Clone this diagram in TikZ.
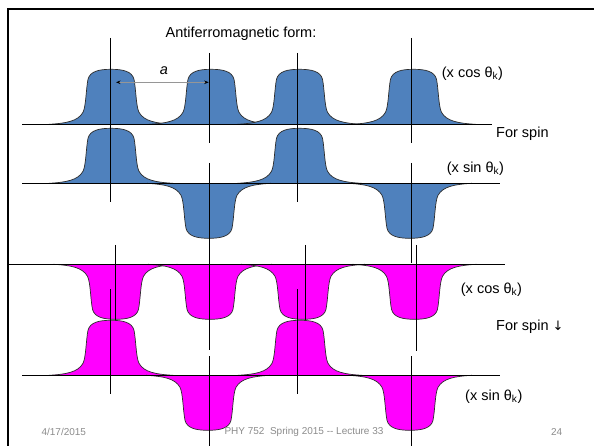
\documentclass[tikz,border=0pt]{standalone}
\usepackage{fontspec}
\setmainfont{Liberation Sans}
\newfontfamily\arrowfont{DejaVu Sans}
\usetikzlibrary{arrows.meta}
\definecolor{bblue}{RGB}{79,129,189}
\definecolor{pmag}{RGB}{255,0,255}
\definecolor{outl}{RGB}{45,45,45}
\definecolor{foot}{RGB}{140,140,140}
\definecolor{arrgray}{RGB}{150,150,150}
\tikzset{
  bump/.pic={
    \path[pic actions] (-62,0) .. controls (-45,-1) and (-33,-3) .. (-28,-12)
      .. controls (-25,-18) and (-25,-35) .. (-23,-45)
      .. controls (-21,-53) and (-12,-55) .. (0,-55)
      .. controls (12,-55) and (21,-53) .. (23,-45)
      .. controls (25,-35) and (25,-18) .. (28,-12)
      .. controls (33,-3) and (45,-1) .. (62,0);
  },
  bluebump/.style={fill=bblue, draw=outl, line width=0.7pt},
  pinkbump/.style={fill=pmag, draw=outl, line width=0.7pt},
  axisline/.style={line width=1.1pt},
  vline/.style={line width=0.9pt},
  lbl/.style={font=\fontsize{14.5}{17}\selectfont, inner sep=0pt, anchor=west},
  footer/.style={font=\fontsize{10}{12}\selectfont, text=foot, inner sep=0pt},
  frameline/.style={line width=2.2pt},
}
\begin{document}
\begin{tikzpicture}[x=1pt, y=-1pt]
\useasboundingbox (0,0) rectangle (594,446);
\fill[white] (0,0) rectangle (594,446);

% frame
\draw[frameline] (8.3,446) -- (8.3,9) -- (594,9);

% ---------- blue row 1 (cos) ----------
\foreach \c in {111,211,299.5,413.5}
  \pic[bluebump] at (\c,124.3) {bump};
\draw[axisline] (22,124.3) -- (492,124.3);
\draw[vline] (110.7,38) -- (110.7,143.5);
\draw[vline] (209.3,53) -- (209.3,143.5);
\draw[vline] (297.3,53) -- (297.3,143.5);
\draw[vline] (411.7,38) -- (411.7,143.5);

% ---------- blue row 2 (sin) ----------
\foreach \c in {111,299.5}
  \pic[bluebump] at (\c,183.3) {bump};
\foreach \c in {209,410}
  \pic[bluebump, yscale=-1] at (\c,183.3) {bump};
\draw[axisline] (22,183.3) -- (500,183.3);
\draw[vline] (110.7,128) -- (110.7,202);
\draw[vline] (297.3,128) -- (297.3,202);
\draw[vline] (209.3,163) -- (209.3,263);
\draw[vline] (411.7,163) -- (411.7,263);

% ---------- pink row 1 (cos) ----------
\foreach \c in {115.5,210,303,414.5}
  \pic[pinkbump, yscale=-1] at (\c,264.3) {bump};
\draw[axisline] (8,264.3) -- (505,264.3);
\draw[vline] (115.3,245) -- (115.3,350);
\draw[vline] (209.3,245) -- (209.3,350);
\draw[vline] (305.5,245) -- (305.5,350);
\draw[vline] (416.7,245) -- (416.7,350.5);

% ---------- pink row 2 (sin) ----------
\foreach \c in {111,300}
  \pic[pinkbump] at (\c,375.3) {bump};
\foreach \c in {208,410}
  \pic[pinkbump, yscale=-1] at (\c,375.3) {bump};
\draw[axisline] (22,375.3) -- (500,375.3);
\draw[vline] (110.7,289) -- (110.7,394);
\draw[vline] (297.7,289) -- (297.7,394);
\draw[vline] (209.3,356) -- (209.3,446);
\draw[vline] (411.7,356) -- (411.7,446);

% ---------- spacing arrow ----------
\coordinate (aL) at (116,82.3);
\coordinate (aR) at (208.7,82.3);
\draw[arrgray, line width=0.8pt, {Stealth[black,length=4.5pt,width=3.5pt]}-{Stealth[black,length=4.5pt,width=3.5pt]}] (aL) -- (aR);
\node[font=\fontsize{14.5}{17}\selectfont\itshape, inner sep=0pt] (alabel) at (164,71) {a};

% ---------- labels ----------
\node[font=\fontsize{14.5}{17}\selectfont, inner sep=0pt] (title) at (241,33.3) {Antiferromagnetic form:};
\node[lbl] (c1) at (441.7,73.3) {(x cos θ\textsubscript{k})};
\node[lbl] (s1) at (496,134) {For spin};
\node[lbl] (sn1) at (446.7,168.3) {(x sin θ\textsubscript{k})};
\node[lbl] (c2) at (460.7,289.3) {(x cos θ\textsubscript{k})};
\node[lbl] (s2) at (496,326.7) {For spin {\arrowfont\fontsize{13}{15}\selectfont ↓}};
\node[lbl] (sn2) at (465,396.7) {(x sin θ\textsubscript{k})};

% ---------- footer ----------
\node[footer] (date) at (63.8,431.7) {4/17/2015};
\node[footer, anchor=west] (course) at (224.3,431.7) {PHY 752\ \ Spring 2015 -{}- Lecture 33};
\node[footer] (page) at (556.7,431.7) {24};
\end{tikzpicture}
\end{document}
